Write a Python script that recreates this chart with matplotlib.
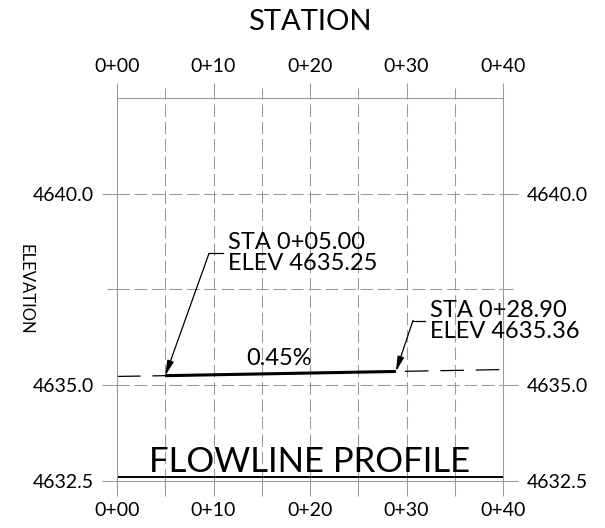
import matplotlib
matplotlib.use("Agg")
import matplotlib.pyplot as plt

# flowline profile
sta_pts = [5.0, 28.9]                 # station (ft)
elev_pts = [4635.25, 4635.36]         # flowline elevation
ext_left_sta = [0.0, 5.0]             # dashed extension, upstream
ext_left_elev = [4635.23, 4635.25]
ext_right_sta = [28.9, 40.0]          # dashed extension, downstream
ext_right_elev = [4635.36, 4635.41]
grade_label = "0.45%"

sta_ticks = [0, 10, 20, 30, 40]
sta_minor = [5, 15, 25, 35]
sta_labels = ["0+00", "0+10", "0+20", "0+30", "0+40"]
elev_ticks = [4632.5, 4635.0, 4640.0]
elev_minor = [4637.5]
elev_labels = ["4632.5", "4635.0", "4640.0"]

callout_text = ["STA 0+05.00\nELEV 4635.25", "STA 0+28.90\nELEV 4635.36"]

plt.rcParams['font.family'] = ['Lato', 'DejaVu Sans']
plt.rcParams['lines.scale_dashes'] = False

grid_c = "#9a9a9a"
glw = 0.75
gdash = (0, (9, 3.5))

fig = plt.figure(figsize=(6.05, 5.28), dpi=100)
ax = fig.add_axes([117/605, 47/528, 386/605, 383/528])
ax.set_xlim(0, 40)
ax.set_ylim(4632.5, 4642.5)

for s in ax.spines.values():
    s.set_color(grid_c)
    s.set_linewidth(glw)

# grid
for x in sta_minor + sta_ticks[1:-1]:
    ax.axvline(x, color=grid_c, lw=glw, linestyle=gdash)
for y in elev_ticks[1:] + elev_minor:
    ax.axhline(y, color=grid_c, lw=glw, linestyle=gdash)
ax.axhline(4632.6, color="black", lw=1.4)

# bottom / left / right ticks
ax.set_xticks(sta_ticks, labels=sta_labels)
ax.set_xticks(sta_minor, minor=True)
ax.set_yticks(elev_ticks, labels=elev_labels)
ax.set_yticks(elev_minor, minor=True)
ax.tick_params(axis='x', which='both', direction='out', length=10.8, width=glw,
               color=grid_c, labelsize=14, pad=4.3, top=False)
ax.tick_params(axis='y', which='major', direction='out', length=10.8, width=glw,
               color=grid_c, labelsize=14, pad=6, left=True, right=True,
               labelleft=True, labelright=True)
ax.tick_params(axis='y', which='minor', direction='out', length=7.2, width=glw,
               color=grid_c, left=True, right=True)

# top station axis
top = ax.secondary_xaxis('top')
top.set_xticks(sta_ticks, labels=sta_labels)
top.set_xticks(sta_minor, minor=True)
top.tick_params(which='major', length=10.8, width=glw, color=grid_c, labelsize=14, pad=5.5)
top.tick_params(which='minor', length=7.2, width=glw, color=grid_c)
top.spines['top'].set_visible(False)

# flowline
ax.plot(sta_pts, elev_pts, color="black", lw=2.2, solid_capstyle='butt')
ax.plot(ext_left_sta, ext_left_elev, color="black", lw=0.9, linestyle=(0, (17, 8.5)))
ax.plot(ext_right_sta, ext_right_elev, color="black", lw=0.9, linestyle=(19, (17, 8.5)))
ax.text(16.8, 4635.70, grade_label, fontsize=17, ha='center', va='center')

# callouts with leaders
knees = [(9.53, 4638.44, 10.98), (30.67, 4636.69, 31.9)]
for i in range(2):
    kx, ky, ex = knees[i]
    ax.plot([kx, ex], [ky, ky], color="black", lw=0.9)
    ax.annotate("", xy=(sta_pts[i], elev_pts[i]), xytext=(kx, ky),
                arrowprops=dict(arrowstyle="-|>,head_length=0.9,head_width=0.2",
                                color="black", lw=0.9, shrinkA=0, shrinkB=0,
                                mutation_scale=10))
    ax.text(ex + 0.5, ky, callout_text[i], fontsize=17, ha='left', va='center',
            linespacing=1.0)

ax.text(20, 4632.73, "FLOWLINE PROFILE", fontsize=25, ha='center', va='baseline')
ax.text(0.5, 1.198, "STATION", transform=ax.transAxes, fontsize=21,
        ha='center', va='center')
ax.text(-0.237, 0.5, "ELEVATION", transform=ax.transAxes, fontsize=12,
        rotation=270, ha='center', va='center')

fig.savefig("out.png", dpi=100)
